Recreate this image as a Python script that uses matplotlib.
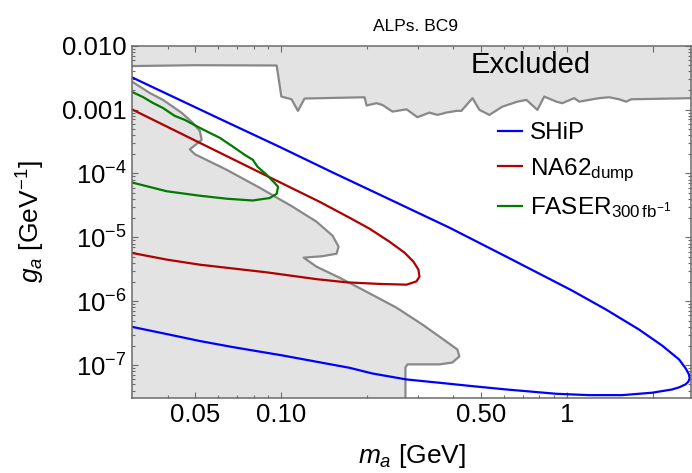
import matplotlib.pyplot as plt
import numpy as np
from matplotlib.ticker import FixedLocator, LogLocator, NullFormatter

plt.rcParams['font.family'] = ['Liberation Sans', 'DejaVu Sans']
plt.rcParams['mathtext.fontset'] = 'custom'
plt.rcParams['mathtext.rm'] = 'Liberation Sans'
plt.rcParams['mathtext.it'] = 'Liberation Sans:italic'
plt.rcParams['mathtext.bf'] = 'Liberation Sans:bold'

# excluded band at the top (lower edge of it), m_a [GeV] vs g_a [1/GeV]
top_m = [0.030, 0.050, 0.0963, 0.100, 0.1086, 0.1143, 0.1206, 0.1956, 0.1988, 0.2154,
         0.2261, 0.2450, 0.2743, 0.2996, 0.330, 0.352, 0.378, 0.410, 0.427, 0.467,
         0.494, 0.535, 0.594, 0.670, 0.721, 0.788, 0.833, 0.918, 0.963, 1.061,
         1.104, 1.197, 1.297, 1.406, 1.524, 1.612, 1.678, 2.72]
top_g = [4.8e-3, 4.95e-3, 4.9e-3, 1.60e-3, 1.45e-3, 9.55e-4, 1.49e-3, 1.56e-3, 1.16e-3, 1.26e-3,
         1.18e-3, 9.3e-4, 1.01e-3, 7.6e-4, 8.97e-4, 8.26e-4, 8.97e-4, 9.55e-4, 9.55e-4, 1.51e-3,
         9.9e-4, 8.26e-4, 1.11e-3, 1.33e-3, 1.42e-3, 9.9e-4, 1.60e-3, 1.33e-3, 1.26e-3, 1.51e-3,
         1.33e-3, 1.42e-3, 1.51e-3, 1.56e-3, 1.45e-3, 1.33e-3, 1.45e-3, 1.51e-3]

# excluded region at low mass (its boundary)
low_m = [0.030, 0.0346, 0.0385, 0.0448, 0.0490, 0.0518, 0.0526, 0.0478, 0.0498, 0.0644,
         0.0840, 0.1095, 0.1328, 0.1512, 0.1586, 0.1561, 0.1394, 0.1197, 0.1328, 0.1599,
         0.1925, 0.2530, 0.312, 0.378, 0.4135, 0.420, 0.397, 0.358, 0.2765, 0.272, 0.272]
low_g = [2.74e-3, 1.82e-3, 1.42e-3, 8.88e-4, 6.19e-4, 4.64e-4, 3.36e-4, 2.39e-4, 2.0e-4, 1.14e-4,
         5.98e-5, 3.02e-5, 1.76e-5, 1.06e-5, 7.16e-6, 5.56e-6, 5.08e-6, 4.82e-6, 3.48e-6, 2.34e-6,
         1.52e-6, 7.95e-7, 4.32e-7, 2.35e-7, 1.76e-7, 1.37e-7, 1.10e-7, 1.03e-7, 1.03e-7, 9.2e-8, 2.0e-8]

ship_m = [0.030, 0.0609, 0.0986, 0.1511, 0.2391, 0.3878, 0.6135, 0.800, 1.043, 1.372,
          1.789, 2.154, 2.470, 2.610, 2.677, 2.690, 2.660, 2.600, 2.470, 2.334,
          1.988, 1.561, 1.197, 0.918, 0.6135, 0.4666, 0.3577, 0.2743, 0.2086, 0.1733,
          0.1010, 0.0676, 0.0518, 0.0397, 0.030]
ship_g = [3.19e-3, 7.16e-4, 2.61e-4, 1.04e-4, 3.95e-5, 1.42e-5, 4.99e-6, 2.71e-6, 1.47e-6, 7.41e-7,
          3.61e-7, 2.03e-7, 1.23e-7, 8.8e-8, 7.1e-8, 6.2e-8, 5.5e-8, 5.0e-8, 4.5e-8, 4.17e-8,
          3.71e-8, 3.40e-8, 3.40e-8, 3.57e-8, 4.17e-8, 4.70e-8, 5.31e-8, 5.98e-8, 7.41e-8, 9.10e-8,
          1.42e-7, 1.92e-7, 2.39e-7, 3.07e-7, 3.98e-7]

na62_m = [0.030, 0.0518, 0.0840, 0.1361, 0.1733, 0.2035, 0.2391, 0.2699, 0.2901, 0.302,
          0.3045, 0.2972, 0.2743, 0.2207, 0.1692, 0.1328, 0.0888, 0.0518, 0.0397, 0.030]
na62_g = [1.007e-3, 3.02e-4, 1.04e-4, 3.61e-5, 2.03e-5, 1.37e-5, 8.57e-6, 5.77e-6, 4.17e-6, 3.12e-6,
          2.43e-6, 2.05e-6, 1.82e-6, 1.87e-6, 1.98e-6, 2.22e-6, 2.84e-6, 3.74e-6, 4.49e-6, 5.71e-6]

faser_m = [0.030, 0.0327, 0.0355, 0.0385, 0.0423, 0.0459, 0.0518, 0.0561, 0.0609, 0.0676,
           0.0744, 0.0794, 0.0826, 0.0888, 0.0948, 0.0974, 0.0963, 0.0910, 0.0794, 0.0644,
           0.0518, 0.0397, 0.030]
faser_g = [1.89e-3, 1.58e-3, 1.27e-3, 1.06e-3, 7.98e-4, 6.91e-4, 5.18e-4, 4.33e-4, 3.61e-4, 2.64e-4,
           1.96e-4, 1.64e-4, 1.27e-4, 9.55e-5, 7.08e-5, 6.19e-5, 4.82e-5, 4.13e-5, 3.78e-5, 4.03e-5,
           4.49e-5, 5.27e-5, 7.23e-5]

x_ticks = [0.05, 0.1, 0.5, 1, 2]
x_labels = ['0.05', '0.10', '0.50', '1', '']
y_ticks = [1e-7, 1e-6, 1e-5, 1e-4, 1e-3, 1e-2]
y_labels = ['$10^{-7}$', '$10^{-6}$', '$10^{-5}$', '$10^{-4}$', '0.001', '0.010']

xlim = (0.03, 2.72)
ylim = (3.1e-8, 0.01)

fill_c = '#e3e3e3'
edge_c = '#888888'
frame_c = '#6a6a6a'

fig = plt.figure(figsize=(6.92, 4.73), dpi=100)
ax = fig.add_axes([0.1908, 0.1592, 0.8078, 0.7442])
ax.set_xscale('log')
ax.set_yscale('log')

# excluded regions
ax.fill_between(top_m, top_g, ylim[1], color=fill_c, lw=0)
ax.plot(top_m, top_g, color=edge_c, lw=1.6)
ax.fill(low_m + [xlim[0]], low_g + [low_g[-1]], color=fill_c, lw=0)
ax.plot(low_m, low_g, color=edge_c, lw=1.6)

ax.plot(ship_m, ship_g, color='#0000ff', lw=1.6, label='SHiP')
ax.plot(na62_m, na62_g, color='#b00000', lw=1.6, label=r'NA62$_{\mathrm{dump}}$')
ax.plot(faser_m, faser_g, color='#007a00', lw=1.6, label=r'FASER$_{300\,\mathrm{fb}^{-1}}$')

ax.text(0.713, 0.945, 'Excluded', transform=ax.transAxes, fontsize=21, ha='center', va='center')

ax.set_xlim(*xlim)
ax.set_ylim(*ylim)

ax.xaxis.set_major_locator(FixedLocator(x_ticks))
ax.set_xticklabels(x_labels)
ax.xaxis.set_minor_locator(FixedLocator([0.04, 0.06, 0.07, 0.08, 0.09, 0.2, 0.3, 0.4,
                                         0.6, 0.7, 0.8, 0.9]))
ax.xaxis.set_minor_formatter(NullFormatter())
ax.yaxis.set_major_locator(FixedLocator(y_ticks))
ax.set_yticklabels(y_labels)
ax.yaxis.set_minor_locator(LogLocator(base=10, subs=range(2, 10), numticks=20))
ax.yaxis.set_minor_formatter(NullFormatter())

ax.tick_params(which='both', direction='in', top=True, right=True, color=frame_c, width=0.8)
ax.tick_params(which='major', length=4, labelsize=18.5, pad=4)
ax.tick_params(which='minor', length=2.2)
for s in ax.spines.values():
    s.set_color(frame_c)
    s.set_linewidth(1.1)

ax.set_xlabel(r'$m_a$ [GeV]', fontsize=19)
ax.set_ylabel(r'$g_a$ [GeV$^{-1}$]', fontsize=19)
ax.xaxis.set_label_coords(0.5, -0.125)
ax.yaxis.set_label_coords(-0.152, 0.5)

fig.text(0.601, 0.943, 'ALPs. BC9', fontsize=12.5, ha='center', va='center')

ax.legend(loc='upper left', bbox_to_anchor=(0.655, 0.782), frameon=False, fontsize=17.5,
          handlelength=1.0, handletextpad=0.3, labelspacing=0.48, borderpad=0,
          borderaxespad=0)

fig.savefig('out.png', dpi=100)
